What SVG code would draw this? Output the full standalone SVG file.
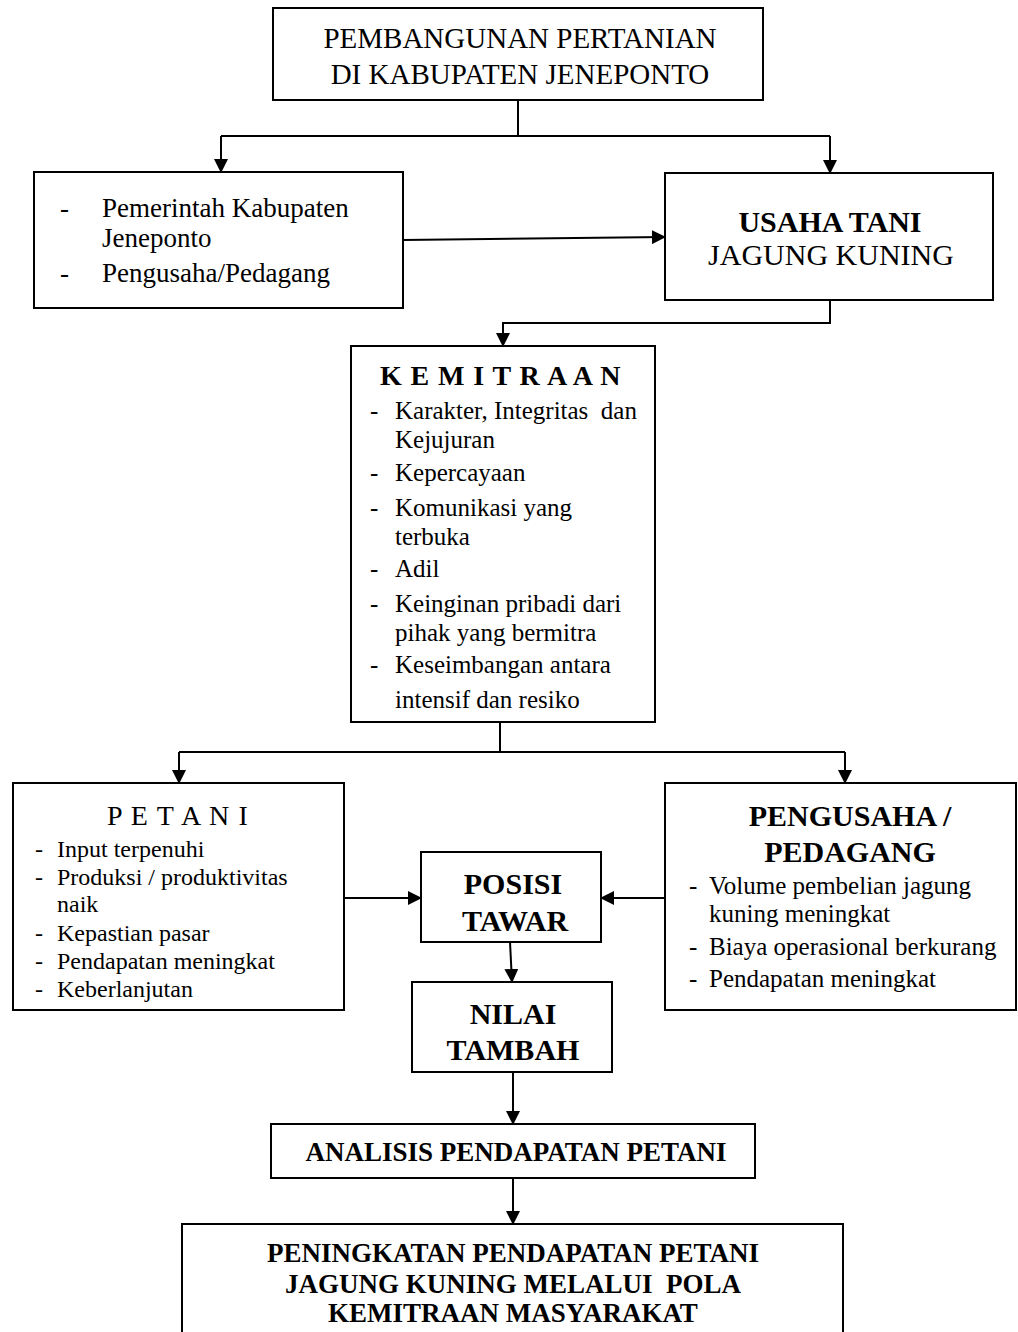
<svg xmlns="http://www.w3.org/2000/svg" width="1018" height="1332" viewBox="0 0 1018 1332">
<style>
  .box { fill: #fff; stroke: #000; stroke-width: 2; }
  .ln { fill: none; stroke: #000; stroke-width: 2; }
  text { font-family: "Liberation Serif", "Times New Roman", serif; fill: #000; }
  .b { font-weight: bold; }
  .c { text-anchor: middle; }
  .pre { white-space: pre; }
</style>
<defs>
  <marker id="ah" markerUnits="userSpaceOnUse" markerWidth="14" markerHeight="14" refX="13" refY="7" orient="auto">
    <path d="M0,0 L14,7 L0,14 Z" fill="#000"/>
  </marker>
</defs>
<rect width="1018" height="1332" fill="#fff"/>

<g id="connectors">
  <path class="ln" d="M518,100 V136"/>
  <path class="ln" d="M221,136 H830"/>
  <path class="ln" d="M221,136 V172" marker-end="url(#ah)"/>
  <path class="ln" d="M830,136 V173" marker-end="url(#ah)"/>
  <path class="ln" d="M403,240 L665,237" marker-end="url(#ah)"/>
  <path class="ln" d="M830,300 V323 H503 V346" marker-end="url(#ah)"/>
  <path class="ln" d="M500,722 V752"/>
  <path class="ln" d="M179,752 H845"/>
  <path class="ln" d="M179,752 V783" marker-end="url(#ah)"/>
  <path class="ln" d="M845,752 V783" marker-end="url(#ah)"/>
  <path class="ln" d="M344,898 H421" marker-end="url(#ah)"/>
  <path class="ln" d="M665,898 H601" marker-end="url(#ah)"/>
  <path class="ln" d="M510,942 L512,982" marker-end="url(#ah)"/>
  <path class="ln" d="M513,1072 V1124" marker-end="url(#ah)"/>
  <path class="ln" d="M513,1178 V1224" marker-end="url(#ah)"/>
</g>

<g id="n-pembangunan">
  <rect class="box" x="273" y="8" width="490" height="92"/>
  <text class="c" x="520" y="48" font-size="29">PEMBANGUNAN PERTANIAN</text>
  <text class="c" x="520" y="84" font-size="29">DI KABUPATEN JENEPONTO</text>
</g>

<g id="n-pemerintah" font-size="27">
  <rect class="box" x="34" y="172" width="369" height="136"/>
  <text x="60" y="217">-</text>
  <text x="102" y="217">Pemerintah Kabupaten</text>
  <text x="102" y="247">Jeneponto</text>
  <text x="60" y="282">-</text>
  <text x="102" y="282">Pengusaha/Pedagang</text>
</g>

<g id="n-usahatani">
  <rect class="box" x="665" y="173" width="328" height="127"/>
  <text class="c b" x="830" y="232" font-size="30">USAHA TANI</text>
  <text class="c" x="831" y="265" font-size="30">JAGUNG KUNING</text>
</g>

<g id="n-kemitraan" font-size="25">
  <rect class="box" x="351" y="346" width="304" height="376"/>
  <text class="b" x="380" y="385" font-size="28" letter-spacing="0.9">K E M I T R A A N</text>
  <text x="370" y="419">-</text><text class="pre" x="395" y="419">Karakter, Integritas  dan</text>
  <text x="395" y="448">Kejujuran</text>
  <text x="370" y="481">-</text><text x="395" y="481">Kepercayaan</text>
  <text x="370" y="516">-</text><text x="395" y="516">Komunikasi yang</text>
  <text x="395" y="545">terbuka</text>
  <text x="370" y="577">-</text><text x="395" y="577">Adil</text>
  <text x="370" y="612">-</text><text x="395" y="612">Keinginan pribadi dari</text>
  <text x="395" y="641">pihak yang bermitra</text>
  <text x="370" y="673">-</text><text x="395" y="673">Keseimbangan antara</text>
  <text x="395" y="708">intensif dan resiko</text>
</g>

<g id="n-petani" font-size="24">
  <rect class="box" x="13" y="783" width="331" height="227"/>
  <text x="107" y="825" font-size="28" letter-spacing="1.15">P E T A N I</text>
  <text x="35" y="857">-</text><text x="57" y="857">Input terpenuhi</text>
  <text x="35" y="885">-</text><text x="57" y="885">Produksi / produktivitas</text>
  <text x="57" y="912">naik</text>
  <text x="35" y="941">-</text><text x="57" y="941">Kepastian pasar</text>
  <text x="35" y="969">-</text><text x="57" y="969">Pendapatan meningkat</text>
  <text x="35" y="997">-</text><text x="57" y="997">Keberlanjutan</text>
</g>

<g id="n-pengusaha" font-size="25">
  <rect class="box" x="665" y="783" width="351" height="227"/>
  <text class="c b" x="850" y="826" font-size="30">PENGUSAHA /</text>
  <text class="c b" x="850" y="862" font-size="30">PEDAGANG</text>
  <text x="689" y="894">-</text><text x="709" y="894">Volume pembelian jagung</text>
  <text x="709" y="922">kuning meningkat</text>
  <text x="689" y="955">-</text><text x="709" y="955">Biaya operasional berkurang</text>
  <text x="689" y="987">-</text><text x="709" y="987">Pendapatan meningkat</text>
</g>

<g id="n-posisi">
  <rect class="box" x="421" y="852" width="180" height="90"/>
  <text class="c b" x="513" y="894" font-size="30">POSISI</text>
  <text class="c b" x="515" y="931" font-size="30">TAWAR</text>
</g>

<g id="n-nilai">
  <rect class="box" x="412" y="982" width="200" height="90"/>
  <text class="c b" x="513" y="1024" font-size="30">NILAI</text>
  <text class="c b" x="513" y="1060" font-size="30">TAMBAH</text>
</g>

<g id="n-analisis">
  <rect class="box" x="271" y="1124" width="484" height="54"/>
  <text class="c b" x="516" y="1161" font-size="27">ANALISIS PENDAPATAN PETANI</text>
</g>

<g id="n-peningkatan">
  <rect class="box" x="182" y="1224" width="661" height="130"/>
  <text class="c b" x="513" y="1262" font-size="27">PENINGKATAN PENDAPATAN PETANI</text>
  <text class="c b pre" x="513" y="1293" font-size="27">JAGUNG KUNING MELALUI  POLA</text>
  <text class="c b" x="513" y="1322" font-size="27">KEMITRAAN MASYARAKAT</text>
</g>
</svg>
